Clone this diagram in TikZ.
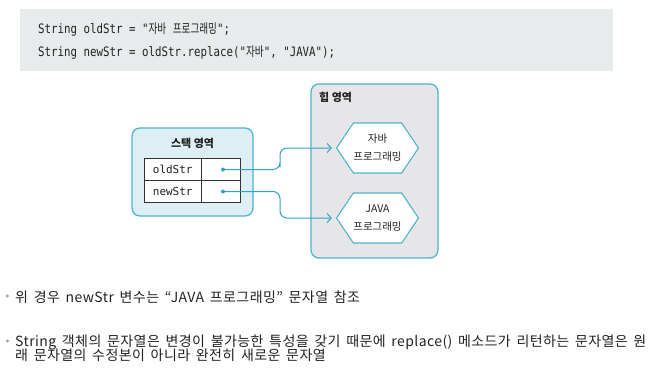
\documentclass[tikz,border=0pt]{standalone}
\usepackage{fontspec}
\usetikzlibrary{shapes.symbols,arrows.meta}
\newfontfamily\kr{Noto Sans CJK KR}
\newfontfamily\krbody[LetterSpace=3.0,WordSpace=1.6]{Noto Sans CJK KR}
\newfontfamily\codefont[FakeStretch=0.83]{DejaVu Sans Mono}
\newfontfamily\codekr[FakeStretch=0.74]{Noto Sans CJK KR}
\newfontfamily\cellfont{DejaVu Sans Mono}
\definecolor{cyanb}{RGB}{77,182,204}
\definecolor{stackfill}{RGB}{221,239,245}
\definecolor{heapfill}{RGB}{230,230,232}
\definecolor{codefill}{RGB}{232,235,236}
\definecolor{arrowc}{RGB}{42,166,196}
\definecolor{bulletc}{RGB}{160,160,160}
\definecolor{txt}{RGB}{34,34,34}
\begin{document}
\begin{tikzpicture}[x=1pt,y=-1pt,
  codeline/.style={anchor=base west,inner sep=0pt,text=txt,font=\codefont\fontsize{13}{15}\selectfont},
  region/.style={rectangle,draw=cyanb,line width=1.3pt,rounded corners=8pt,inner sep=0pt},
  regionlabel/.style={inner sep=0pt,text=txt,font=\kr\bfseries\fontsize{11}{13}\selectfont},
  cellbox/.style={rectangle,draw=black!80,line width=0.8pt,fill=white,minimum height=22pt,inner sep=0pt,text height=8pt,text depth=0pt,text=txt,font=\cellfont\fontsize{11}{12}\selectfont},
  refdot/.style={circle,fill=arrowc,inner sep=0pt,minimum size=4pt},
  hexbox/.style={signal,signal to=west and east,signal pointer angle=112,draw=cyanb,line width=1.1pt,fill=white,minimum width=79pt,minimum height=50pt,inner sep=0pt,align=center,text=txt,font=\kr\fontsize{10.5}{18}\selectfont},
  conn/.style={draw=arrowc,line width=1pt,rounded corners=7pt,-{Straight Barb[length=4pt,width=9pt]},shorten >=4pt},
  bulletdot/.style={circle,fill=bulletc,inner sep=0pt,minimum size=3.2pt},
  bodytext/.style={anchor=base west,inner sep=0pt,text=txt,font=\krbody\fontsize{14}{16}\selectfont}
]
\useasboundingbox (0,0) rectangle (654,370);
% code box
\fill[codefill] (20,9) rectangle (613,71);
\node[codeline] (code1) at (38,33.5) {String oldStr = "{\codekr 자바} {\codekr 프로그래밍}";};
\node[codeline] (code2) at (38,56) {String newStr = oldStr.replace("{\codekr 자바}", "JAVA");};
% stack region
\node[region,fill=stackfill,minimum width=121pt,minimum height=88pt] (stack) at (192.5,172) {};
\node[regionlabel] (stacklabel) at (192.5,143) {스택 영역};
\node[cellbox,minimum width=57.5pt] (oldname) at (172.75,169.5) {oldStr};
\node[cellbox,minimum width=39pt] (oldval) at (221,169.5) {};
\node[cellbox,minimum width=57.5pt] (newname) at (172.75,191.5) {newStr};
\node[cellbox,minimum width=39pt] (newval) at (221,191.5) {};
\node[refdot] (dot1) at (223,169.5) {};
\node[refdot] (dot2) at (223,191.5) {};
% heap region
\node[region,fill=heapfill,minimum width=127pt,minimum height=174pt] (heap) at (374.5,171) {};
\node[regionlabel,anchor=west] (heaplabel) at (319,97.5) {힙 영역};
\node[hexbox] (hex1) at (377.5,148) {자바\\프로그래밍};
\node[hexbox] (hex2) at (377.5,218) {JAVA\\프로그래밍};
% connectors
\coordinate (bend1) at (280,160);
\coordinate (bend2) at (280,205);
\draw[conn] (dot1) -| (bend1) |- (hex1.west);
\draw[conn] (dot2) -| (bend2) |- (hex2.west);
% bullets
\node[bulletdot] (b1) at (7.5,296) {};
\node[bodytext] (t1) at (15,302) {위 경우 newStr 변수는 “JAVA 프로그래밍” 문자열 참조};
\node[bulletdot] (b2) at (7.5,341) {};
\node[bodytext] (t2a) at (15,346.5) {String 객체의 문자열은 변경이 불가능한 특성을 갖기 때문에 replace() 메소드가 리턴하는 문자열은 원};
\node[bodytext] (t2b) at (15,360) {래 문자열의 수정본이 아니라 완전히 새로운 문자열};
\end{tikzpicture}
\end{document}
